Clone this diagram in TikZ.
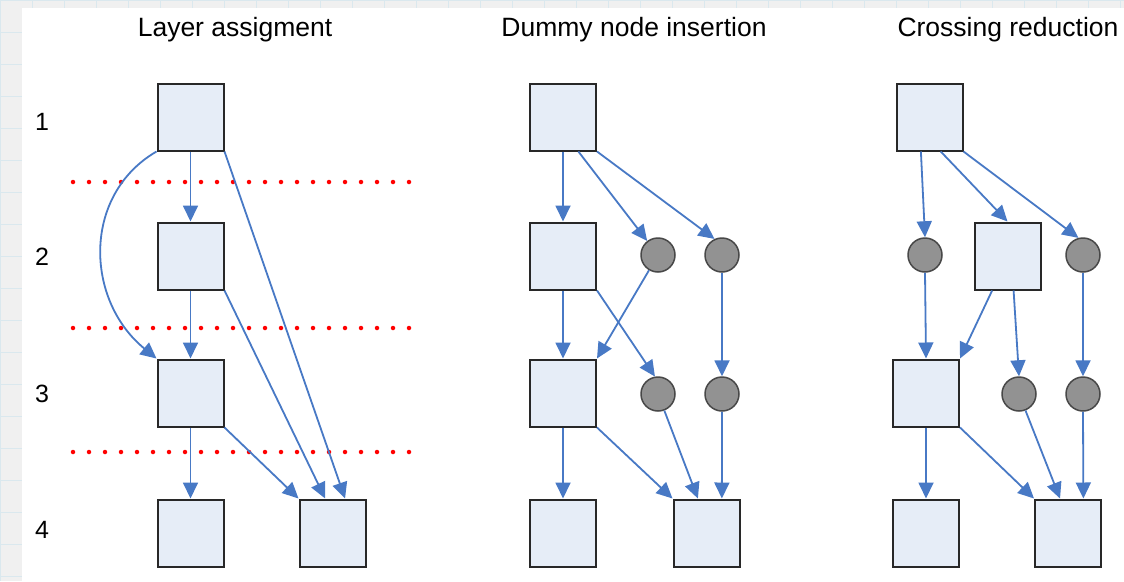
\documentclass[tikz,border=0pt]{standalone}
\usepackage{fontspec}
\setmainfont{Liberation Sans}
\usepackage{tikz}
\usetikzlibrary{arrows.meta}
\definecolor{LayoutEdgeColor}{RGB}{72,121,197}
\definecolor{LayoutBoxColor}{RGB}{230,237,247}
\definecolor{LayoutDummyColor}{RGB}{146,146,146}
\definecolor{LayoutBorderColor}{RGB}{40,40,40}
\definecolor{LayoutGridColor}{RGB}{218,232,238}
\definecolor{LayoutPageColor}{RGB}{240,240,240}

\begin{document}
\begin{tikzpicture}[x=1pt,y=-1pt,
  blk/.style={rectangle,draw=LayoutBorderColor,fill=LayoutBoxColor,line width=2pt,minimum width=66pt,minimum height=67pt,inner sep=0pt},
  dmy/.style={circle,draw=LayoutBorderColor!85,fill=LayoutDummyColor,line width=1.5pt,minimum size=34pt,inner sep=0pt},
  edg/.style={draw=LayoutEdgeColor,line width=1.8pt,-{Triangle[length=16pt,width=15pt]}},
  sep/.style={red,line width=4.5pt,line cap=round,dash pattern=on 0pt off 16pt},
  ttl/.style={font=\fontsize{26.5}{30}\selectfont},
  lvl/.style={font=\fontsize{25}{28}\selectfont}]
\useasboundingbox (0,0) rectangle (1124,581);
\fill[LayoutPageColor] (0,0) rectangle (1124,581);
\foreach \g in {0,32,...,1120} {
   \draw[LayoutGridColor,line width=1pt] (\g,0) -- (\g,581);
}
\foreach \g in {0,32,...,580} {
   \draw[LayoutGridColor,line width=1pt] (0,\g) -- (1124,\g);
}
\fill[white] (22,8) rectangle (1124,581);
% titles and layer numbers
\node[ttl](t1) at (235,30) {Layer assigment};
\node[ttl](t2) at (634,30) {Dummy node insertion};
\node[ttl](t3) at (1008,30) {Crossing reduction};
\foreach \y/\l in {122/1,257/2,394/3,530/4} {
   \node[lvl] at (42,\y) {\l};
}
\foreach \y in {182,328,452} {
   \draw[sep] (73,\y) -- (410,\y);
}
% layer assignment
\node[blk](a1) at (190.5,117) {};
\node[blk](a2) at (190.5,256) {};
\node[blk](a3) at (190.5,393) {};
\node[blk](a4l) at (190.5,533) {};
\node[blk](a4r) at (332.5,533) {};
\draw[edg] (a1.south) -- (a2.north);
\draw[edg] (a1.south west) .. controls (82,195) and (85,300) .. (a3.north west);
\draw[edg] (a1.south east) -- (a4r.70);
\draw[edg] (a2.south) -- (a3.north);
\draw[edg] (a2.south east) -- (a4r.102);
\draw[edg] (a3.south) -- (a4l.north);
\draw[edg] (a3.south east) -- (a4r.north west);
% dummy node insertion
\node[blk](b1) at (563,117) {};
\node[blk](b2) at (563,256) {};
\node[dmy](bd1) at (658,255) {};
\node[dmy](bd2) at (722,255) {};
\node[blk](b3) at (563,393) {};
\node[dmy](bd3) at (658,394) {};
\node[dmy](bd4) at (722,394) {};
\node[blk](b4l) at (563,533) {};
\node[blk](b4r) at (706.5,533) {};
\draw[edg] (b1.south) -- (b2.north);
\draw[edg] (b1.-66) -- (bd1);
\draw[edg] (b1.south east) -- (bd2.115);
\draw[edg] (b2.south) -- (b3.north);
\draw[edg] (b2.south east) -- (bd3.100);
\draw[edg] (bd1) -- (b3.north east);
\draw[edg] (bd2) -- (bd4);
\draw[edg] (b3.south) -- (b4l.north);
\draw[edg] (b3.south east) -- (b4r.north west);
\draw[edg] (bd3) -- (b4r.104);
\draw[edg] (bd4.south) -- (b4r.66);
% crossing reduction
\node[blk](c1) at (929.5,117) {};
\node[dmy](cd1) at (925,255) {};
\node[blk](c2) at (1007.5,256) {};
\node[dmy](cd2) at (1083,255) {};
\node[blk](c3) at (926,393) {};
\node[dmy](cd3) at (1019,394) {};
\node[dmy](cd4) at (1083,394) {};
\node[blk](c4l) at (926,533) {};
\node[blk](c4r) at (1068,533) {};
\draw[edg] (c1.-104) -- (cd1.north);
\draw[edg] (c1.-72) -- (c2.north);
\draw[edg] (c1.south east) -- (cd2.105);
\draw[edg] (cd1.south) -- (c3.north);
\draw[edg] (c2.-114) -- (c3.north east);
\draw[edg] (c2.-80) -- (cd3.north);
\draw[edg] (cd2) -- (cd4);
\draw[edg] (c3.south) -- (c4l.north);
\draw[edg] (c3.south east) -- (c4r.north west);
\draw[edg] (cd3) -- (c4r.103);
\draw[edg] (cd4.south) -- (c4r.66);
\end{tikzpicture}
\end{document}
